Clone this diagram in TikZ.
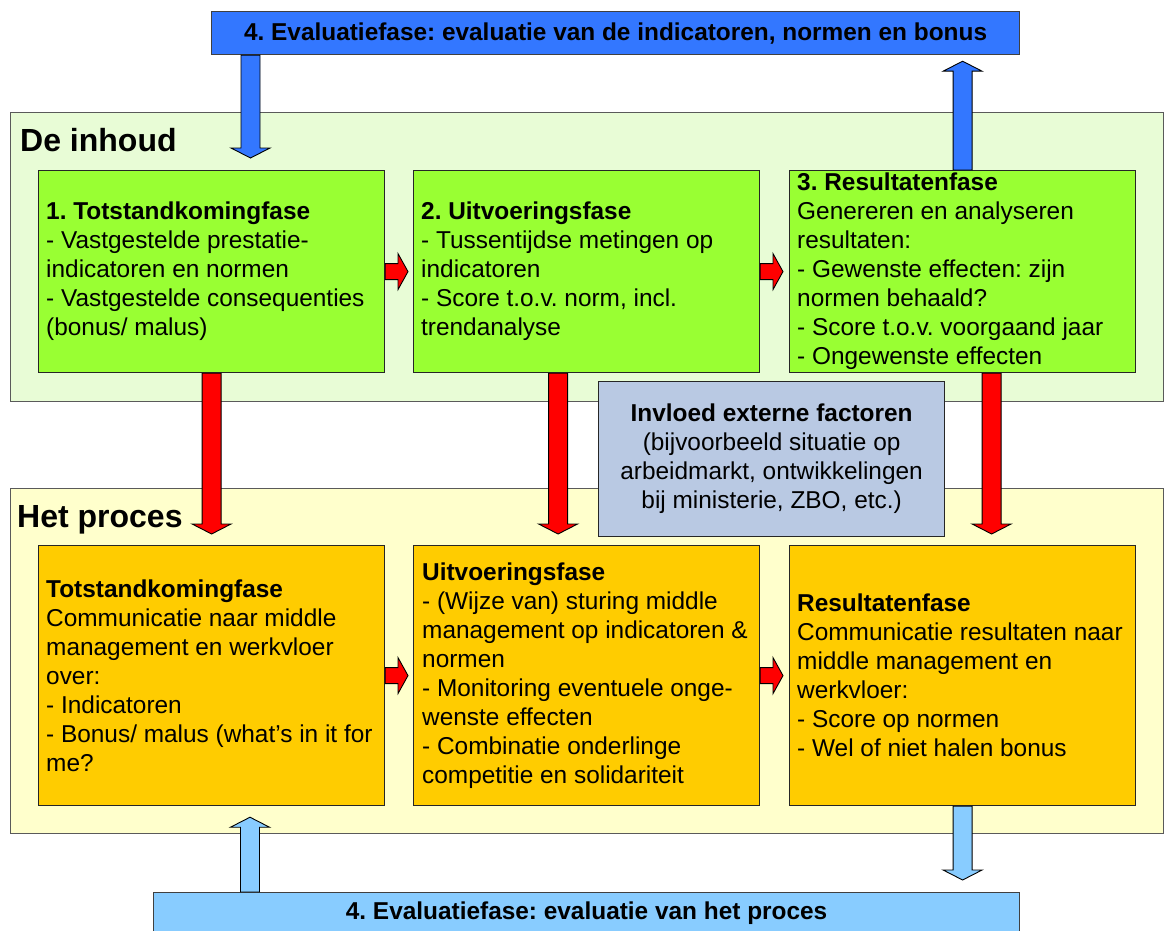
\documentclass[tikz,border=0pt]{standalone}
\usepackage{fontspec}
\setmainfont{Liberation Sans}
\usetikzlibrary{calc}
\frenchspacing

\definecolor{evalblue}{RGB}{51,119,255}
\definecolor{evallight}{RGB}{136,204,255}
\definecolor{inhoudbg}{RGB}{232,252,214}
\definecolor{procesbg}{RGB}{255,255,204}
\definecolor{inhoudbox}{RGB}{153,255,51}
\definecolor{procesbox}{RGB}{255,204,0}
\definecolor{externbg}{RGB}{185,201,227}
\definecolor{flowred}{RGB}{255,0,0}
\definecolor{bandline}{RGB}{90,90,90}

% Block arrows: #1 fill colour, #2 tail point, #3 tip point
\newcommand\BlkDown[3]{%
  \draw[blk,fill=#1] let \p1=(#2), \p2=(#3) in
    ({\x2-9.5pt},\y1) -- ({\x2-9.5pt},{\y2+10pt}) -- ({\x2-19.5pt},{\y2+10pt})
    -- (\x2,\y2) -- ({\x2+19.5pt},{\y2+10pt}) -- ({\x2+9.5pt},{\y2+10pt})
    -- ({\x2+9.5pt},\y1) -- cycle;}
\newcommand\BlkUp[3]{%
  \draw[blk,fill=#1] let \p1=(#2), \p2=(#3) in
    ({\x2-9.5pt},\y1) -- ({\x2-9.5pt},{\y2-10pt}) -- ({\x2-19.5pt},{\y2-10pt})
    -- (\x2,\y2) -- ({\x2+19.5pt},{\y2-10pt}) -- ({\x2+9.5pt},{\y2-10pt})
    -- ({\x2+9.5pt},\y1) -- cycle;}
\newcommand\BlkRight[3]{%
  \draw[blk,fill=#1] let \p1=(#2), \p2=(#3) in
    (\x1,{\y2+8pt}) -- ({\x2-10pt},{\y2+8pt}) -- ({\x2-10pt},{\y2+18pt})
    -- (\x2,\y2) -- ({\x2-10pt},{\y2-18pt}) -- ({\x2-10pt},{\y2-8pt})
    -- (\x1,{\y2-8pt}) -- cycle;}

\begin{document}
\begin{tikzpicture}[x=1pt,y=-1pt,
  band/.style={draw=bandline, line width=1.2pt, anchor=north west, inner sep=0pt,
    minimum width=1153pt},
  box/.style={draw=black!85, line width=1.2pt, anchor=north west, inner sep=0pt,
    minimum width=346pt},
  evalbox/.style={draw=black!75, line width=1.2pt, anchor=north west, inner sep=0pt,
    font=\fontsize{24.4}{29}\selectfont\bfseries},
  txt/.style={anchor=west, align=left, inner sep=0pt, font=\fontsize{24.4}{29}\selectfont},
  bandtitle/.style={anchor=base west, inner sep=0pt, font=\fontsize{32}{38}\selectfont\bfseries},
  blk/.style={draw=black, line width=0.9pt, line join=miter}
]
\useasboundingbox (0,0) rectangle (1164,931);

% background bands
\node[band, fill=inhoudbg, minimum height=289pt] (inhoud) at (10,112) {};
\node[band, fill=procesbg, minimum height=345pt] (proces) at (10,488) {};
\node[bandtitle] (inhoudtitle) at (20,151) {De inhoud};
\node[bandtitle] (procestitle) at (17,527) {Het proces};

% evaluation bars
\node[evalbox, fill=evalblue, minimum width=808pt, minimum height=43pt] (evtop) at (211,11)
  {4. Evaluatiefase: evaluatie van de indicatoren, normen en bonus};
\node[evalbox, fill=evallight, minimum width=866pt, minimum height=42pt] (evbot) at (153,892)
  {4. Evaluatiefase: evaluatie van het proces};

% content phases
\node[box, fill=inhoudbox, minimum height=202pt] (g1) at (38,170) {};
\node[box, fill=inhoudbox, minimum height=202pt] (g2) at (413,170) {};
\node[box, fill=inhoudbox, minimum height=202pt] (g3) at (789,170) {};
\node[txt] (g1t) at ($(g1.west)+(8,0)$) {\textbf{1. Totstandkomingfase}\\- Vastgestelde prestatie-\\indicatoren en normen\\- Vastgestelde consequenties\\(bonus/ malus)};
\node[txt] (g2t) at ($(g2.west)+(8,0)$) {\textbf{2. Uitvoeringsfase}\\- Tussentijdse metingen op\\indicatoren\\- Score t.o.v. norm, incl.\\trendanalyse};
\node[txt] (g3t) at ($(g3.west)+(8,0)$) {\textbf{3. Resultatenfase}\\Genereren en analyseren\\resultaten:\\- Gewenste effecten: zijn\\normen behaald?\\- Score t.o.v. voorgaand jaar\\- Ongewenste effecten};

% process phases
\node[box, fill=procesbox, minimum height=260pt] (o1) at (38,545) {};
\node[box, fill=procesbox, minimum height=260pt] (o2) at (413,545) {};
\node[box, fill=procesbox, minimum height=260pt] (o3) at (789,545) {};
\node[txt] (o1t) at ($(o1.west)+(8,0)$) {\textbf{Totstandkomingfase}\\Communicatie naar middle\\management en werkvloer\\over:\\- Indicatoren\\- Bonus/ malus (what’s in it for\\me?};
\node[txt] (o2t) at ($(o2.west)+(9,0)$) {\textbf{Uitvoeringsfase}\\- (Wijze van) sturing middle\\management op indicatoren \&\\normen\\- Monitoring eventuele onge-\\wenste effecten\\- Combinatie onderlinge\\competitie en solidariteit};
\node[txt] (o3t) at ($(o3.west)+(8,0)$) {\textbf{Resultatenfase}\\Communicatie resultaten naar\\middle management en\\werkvloer:\\- Score op normen\\- Wel of niet halen bonus};

% external influences
\node[box, fill=externbg, minimum width=346pt, minimum height=155pt, align=center,
  font=\fontsize{24.4}{29}\selectfont] (extern) at (598,381)
  {\textbf{Invloed externe factoren}\\(bijvoorbeeld situatie op\\arbeidmarkt, ontwikkelingen\\bij ministerie, ZBO, etc.)};

% evaluation arrows
\BlkDown{evalblue}{$(evtop.south west)+(39.5,0)$}{$(g1.north west)+(212.5,-12)$}
\BlkUp{evalblue}{g3.north}{$(g3.north |- evtop.south)+(0,6)$}
\BlkUp{evallight}{$(evbot.north west)+(97,0)$}{$(o1.south west)+(212,11)$}
\BlkDown{evallight}{o3.south}{$(o3.south |- evbot.north)+(0,-12)$}

% flow from content to process
\BlkDown{flowred}{g1.south}{$(o1.north)+(0,-11)$}
\BlkDown{flowred}{$(g2.south)+(-28.5,0)$}{$(o2.north)+(-28.5,-11)$}
\BlkDown{flowred}{$(g3.south)+(29,0)$}{$(o3.north)+(29,-11)$}

% flow between phases
\BlkRight{flowred}{g1.east}{$(g2.west)+(-5,0)$}
\BlkRight{flowred}{g2.east}{$(g3.west)+(-6,0)$}
\BlkRight{flowred}{o1.east}{$(o2.west)+(-5,0)$}
\BlkRight{flowred}{o2.east}{$(o3.west)+(-6,0)$}
\end{tikzpicture}
\end{document}
